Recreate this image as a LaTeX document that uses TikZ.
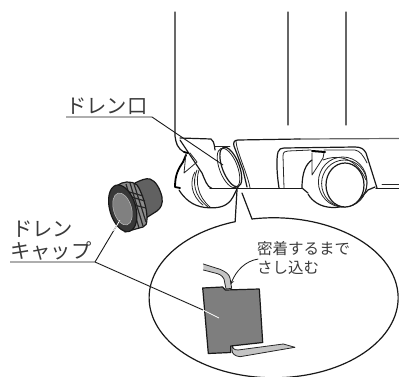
\documentclass[tikz,border=0pt]{standalone}
\usepackage{fontspec}
\newfontfamily\jpfont{Noto Sans CJK JP}
\definecolor{inkgray}{HTML}{3A3A3A}
\definecolor{plategray}{HTML}{7E7E7E}
\definecolor{stripgray}{HTML}{C4C4C4}
\tikzset{
  caselines/.style={line width=1.2pt,line join=round,line cap=round,black!90},
  heavylines/.style={line width=1.8pt,line join=round,line cap=round,black},
  thinlines/.style={line width=0.8pt,line join=round,line cap=round,black!85},
  paneledge/.style={line width=1.2pt,line cap=round,black!60},
  leaderlines/.style={line width=0.9pt,black!90},
  biglabel/.style={font=\jpfont\fontsize{20.3}{25}\selectfont,text=inkgray,inner sep=0pt,anchor=west},
  smalllabel/.style={font=\jpfont\fontsize{15.5}{19}\selectfont,text=inkgray,inner sep=0pt,anchor=west}
}
\begin{document}
\begin{tikzpicture}[x=1pt,y=1pt,yscale=-1]
        \useasboundingbox (0,0) rectangle (399,377);
        % cabinet
        \draw[caselines] (175,12) -- (175,136) .. controls (176,143) and (177,148) .. (184,152);
        \draw[paneledge] (288,12) -- (288,125);
        \draw[paneledge] (346,12) -- (346,125);
        \draw[paneledge] (399,138.5) -- (300,139);
        \draw[caselines] (300,139) -- (238,140) .. controls (234,140) and (233,143) .. (234,146) -- (243,170) -- (247,187);
        \draw[thinlines] (236,141) .. controls (236,150) and (248,175) .. (250,188);
        \draw[caselines] (210,188.5) -- (302,188.5);
        \draw[caselines] (376,188.5) -- (399,188.5);
        \draw[caselines] (180,138) -- (211,139) .. controls (213,140) and (214,142) .. (215,150);
        \draw[thinlines] (215,146) -- (230,146);
        \draw[caselines] (180,140) -- (202,173) .. controls (205,180) and (207,187) .. (212,188.5);
        % left caster
        \draw[heavylines] (186,155) -- (183,162) .. controls (179,168) and (175,174) .. (175,187) -- (180,188);
        \draw[caselines] (179,190) .. controls (184,198) and (192,206) .. (205,207.5) .. controls (220,209) and (228,206) .. (233,197) -- (238,187);
        \draw[thinlines] (195,172) .. controls (190,180) and (190,195) .. (203,205);
        \draw[thinlines] (197,170) .. controls (192,182) and (194,196) .. (208,207);
        \draw[thinlines] (199,170) .. controls (195,182) and (198,197) .. (210,207);
        \draw[thinlines] (186,153) -- (184,173) -- (197,162) -- (190,153);
        \draw[heavylines] (184,152) -- (188,153);
        % drain ring
        \draw[caselines] (230.8,167) ellipse [x radius=8.5,y radius=21,rotate=-21];
        \draw[thinlines] (228.5,168) ellipse [x radius=9,y radius=21,rotate=-21];
        % right caster
        \draw[caselines] (279,188) .. controls (277,175) and (276,160) .. (278,152) .. controls (279,149) and (281,148) .. (284,148) -- (355,147) .. controls (361,147) and (364,149) .. (366,153) -- (377,188);
        \draw[thinlines] (284,188) -- (283,156) .. controls (283,152) and (285,151) .. (288,151) -- (311,150);
        \draw[thinlines] (324,150) -- (355,150) .. controls (360,151) and (363,155) .. (367,163);
        \draw[heavylines,line width=2pt] (312,151) -- (325,152);
        \draw[thinlines] (312,153) -- (312,175) -- (323,158) -- (324,153);
        \draw[caselines] (312,160) .. controls (306,164) and (302,172) .. (302,188) -- (308,193);
        \draw[caselines] (308,194) .. controls (312,201) and (320,207) .. (332,207.5) .. controls (345,208) and (358,202) .. (368,190) -- (375,187);
        \draw[thinlines] (323,160) .. controls (335,155) and (355,155) .. (366,180);
        \draw[thinlines] (342.7,182) ellipse [x radius=24.3,y radius=25];
        \draw[thinlines] (344.3,183.5) ellipse [x radius=22.7,y radius=23.5];
        \draw[caselines,fill=white] (345,185) ellipse [x radius=19,y radius=22];
        \draw[thinlines] (382,184) -- (399,184);
        % drain cap
        \draw[caselines,fill=black!62] (135,183) .. controls (141,180) and (146,178) .. (150,179) .. controls (156,181) and (160,189) .. (162,197) .. controls (163,204) and (161,208) .. (157,211) -- (146,218) -- cycle;
        \draw[caselines,fill=black!45] (118,185) .. controls (122,182) and (131,180) .. (137,185) .. controls (142,192) and (147,208) .. (147,218) .. controls (147,224) and (146,226) .. (143,227) -- (125,232) -- cycle;
        \draw[black!85,line width=1.2pt] (126,184) -- (139,228);
        \draw[black!85,line width=1.2pt] (130,183) -- (143,226);
        \draw[black!85,line width=1.2pt] (134,184) -- (146,222);
        \draw[black!85,line width=1.2pt] (126,191) -- (143,196);
        \draw[black!85,line width=1.2pt] (128,196) -- (145,201);
        \draw[black!85,line width=1.2pt] (130,204) -- (146,208);
        \draw[caselines,fill=black!78] (122.7,208.3) ellipse [x radius=13,y radius=24,rotate=-16];
        \draw[fill=black!50,draw=black!25,line width=.5pt] (122.5,209) ellipse [x radius=9,y radius=16.5,rotate=-16];
        % balloon
        \draw[caselines] (252,219) arc [start angle=-100,end angle=252,x radius=124.5,y radius=80] -- (237,190);
        \draw[caselines] (252,219) -- (242,193);
        % hooked strips and filter
        \draw[thinlines,fill=stripgray] (203.3,264) -- (220,269.3) .. controls (226,272) and (229,274) .. (230,278) -- (231.7,288.3) -- (226,289) -- (224,279) .. controls (222,275) and (219,274) .. (215,273) -- (203.3,270);
        \draw[thinlines,fill=stripgray] (232,345) .. controls (232,348) and (234,350) .. (238,350) -- (283.3,344) -- (295,347.3) -- (240,356.7) .. controls (235,356) and (232,354) .. (232,350) -- cycle;
        \draw[caselines,fill=plategray] (202.7,288) -- (222.7,287) -- (225.3,290) -- (259.3,289) -- (262.7,342.5) -- (230.7,346) -- (230.7,352.5) -- (208.3,353.5) -- cycle;
        % labels
        \node[biglabel] (outletlabel) at (66,106) {ドレン口};
        \node[biglabel] (drainlabel) at (12,229) {ドレン};
        \node[biglabel] (caplabel) at (10,251) {キャップ};
        \node[smalllabel] (insertlabel) at (257,249) {密着するまで};
        \node[smalllabel] (pushlabel) at (257,268) {さし込む};
        % leaders
        \coordinate (outletelbow) at (152,117);
        \coordinate (outletend) at (223,165);
        \coordinate (capelbow) at (95,262);
        \coordinate (capend) at (120,220);
        \coordinate (filtermid) at (203,310);
        \coordinate (filterend) at (219,318);
        \draw[leaderlines] (10,262) -- (capelbow) -- (capend);
        \draw[leaderlines] (66,117) -- (outletelbow) -- (outletend);
        \draw[leaderlines] (capelbow) -- (filtermid);
        \draw[white,line width=.8pt] (filtermid) -- (filterend);
        \draw[white,line width=.8pt] (113.5,231) -- (capend);
        \draw[-stealth,line width=.8pt,black!90] (258.3,259) .. controls (245,261) and (236,271) .. (230.7,284.3);
    \end{tikzpicture}
\end{document}
